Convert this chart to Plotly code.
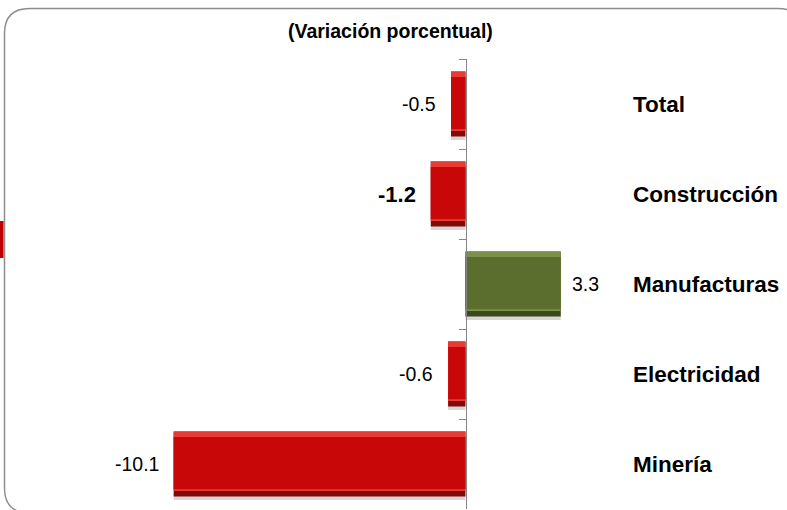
import plotly.graph_objects as go

categories = ["Total", "Construcción", "Manufacturas", "Electricidad", "Minería"]
values = [-0.5, -1.2, 3.3, -0.6, -10.1]
value_labels = ["-0.5", "-1.2", "3.3", "-0.6", "-10.1"]
bold_value = [False, True, False, False, False]
title_text = "(Variación porcentual)"

W, H = 787, 510
L, R, T, B = 100, 620, 59, 509  # plot area in pixels
xmin, xmax = -12.65, 5.35

def px(x):
    return (x - L) / (R - L)

def py(y):
    return (B - y) / (B - T)

RED = dict(shadow="rgba(0,0,0,0.16)", base="#7e0a0a", top="#ea3a34", mid="#c80808")
GREEN = dict(shadow="rgba(0,0,0,0.16)", base="#3b4a1c", top="#7d9049", mid="#5b6e2e")

def cols(key):
    return [(GREEN if v >= 0 else RED)[key] for v in values]

fig = go.Figure()
layers = [("shadow", -0.32, 0.72), ("base", -0.36, 0.72), ("top", -0.36, 0.66), ("mid", -0.30, 0.58)]
for key, off, wd in layers:
    fig.add_trace(go.Bar(
        x=values, y=categories, orientation="h",
        marker=dict(color=cols(key), line=dict(width=0)),
        offset=off, width=wd, hoverinfo="skip", showlegend=False,
    ))

font_main = "Liberation Sans, Arial, sans-serif"

annotations = []
for c, v, lab, b in zip(categories, values, value_labels, bold_value):
    annotations.append(dict(
        x=v, y=c, xref="x", yref="y",
        text=f"<b>{lab}</b>" if b else lab,
        showarrow=False,
        xanchor="right" if v < 0 else "left",
        xshift=-13 if v < 0 else 9,
        font=dict(family=font_main, size=22 if b else 19.5, color="#000000"),
    ))
    annotations.append(dict(
        x=px(631), y=c, xref="paper", yref="y",
        text=f"<b>{c}</b>", showarrow=False, xanchor="left",
        font=dict(family=font_main, size=22.5, color="#000000"),
    ))
annotations.append(dict(
    x=px(390), y=py(31), xref="paper", yref="paper",
    text=f"<b>{title_text}</b>", showarrow=False, xanchor="center", yanchor="middle",
    font=dict(family=font_main, size=19.5, color="#000000"),
))

# rounded frame
x0, y0, x1, y1, r = 4.5, 8.5, 803, 513, 25
path = (
    f"M {px(x0)},{py(y0 + r)} "
    f"Q {px(x0)},{py(y0)} {px(x0 + r)},{py(y0)} "
    f"L {px(x1 - r)},{py(y0)} "
    f"Q {px(x1)},{py(y0)} {px(x1)},{py(y0 + r)} "
    f"L {px(x1)},{py(y1 - r)} "
    f"Q {px(x1)},{py(y1)} {px(x1 - r)},{py(y1)} "
    f"L {px(x0 + r)},{py(y1)} "
    f"Q {px(x0)},{py(y1)} {px(x0)},{py(y1 - r)} Z"
)
shapes = [
    dict(type="path", path=path, xref="paper", yref="paper",
         line=dict(color="#8c8c8c", width=1.5), layer="below"),
    dict(type="rect", xref="paper", yref="paper",
         x0=px(0), x1=px(3.5), y0=py(258), y1=py(221),
         fillcolor="#c00000", line=dict(width=0)),
]

fig.update_layout(
    width=W, height=H,
    margin=dict(l=L, r=W - R, t=T, b=H - B, pad=0),
    paper_bgcolor="white", plot_bgcolor="rgba(0,0,0,0)",
    barmode="overlay", bargap=0.28,
    showlegend=False, hovermode=False,
    xaxis=dict(range=[xmin, xmax], visible=False, fixedrange=True),
    yaxis=dict(
        type="category", autorange="reversed",
        categoryorder="array", categoryarray=categories,
        anchor="free", position=px(465.5),
        showline=True, linecolor="#868686", linewidth=1,
        ticks="outside", ticklen=7, tickcolor="#868686", tickwidth=1,
        tickson="boundaries", showticklabels=False, showgrid=False,
        zeroline=False, fixedrange=True,
    ),
    annotations=annotations,
    shapes=shapes,
)

fig.write_html(
    "out.html",
    config={"displayModeBar": False},
    post_script="document.body.style.margin='0px';document.body.style.overflow='hidden';",
)
